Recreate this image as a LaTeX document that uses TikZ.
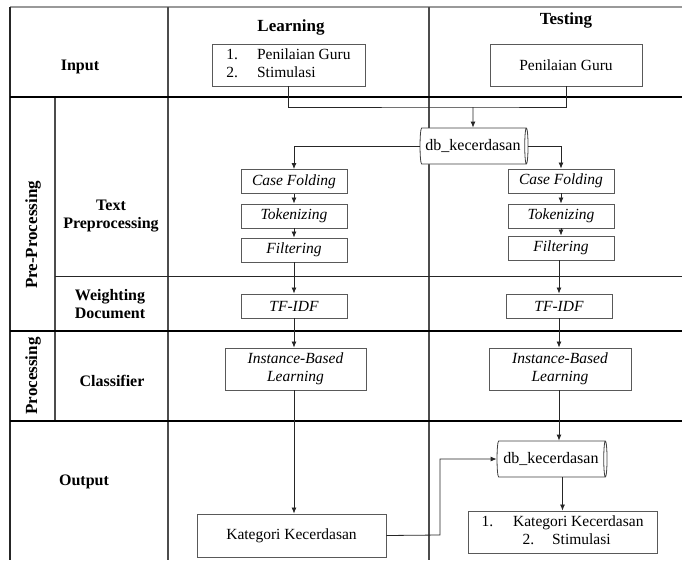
\documentclass[tikz,border=0pt]{standalone}
\usepackage{fontspec}
\setmainfont{Liberation Serif}
\usetikzlibrary{arrows.meta,shapes.geometric}

\begin{document}
\begin{tikzpicture}[x=1pt,y=-1pt,
  gridline/.style={draw=black!70,line width=1.1pt},
  rule/.style={draw=black,line width=1.8pt},
  boxbase/.style={draw=black!65,line width=0.9pt,fill=white,inner sep=0pt},
  stepbox/.style={boxbase,font=\fontsize{15.5}{17.5}\selectfont\itshape,minimum height=24pt,minimum width=106pt},
  plainbox/.style={boxbase,font=\fontsize{15.5}{17.5}\selectfont},
  db/.style={cylinder,draw=black!75,line width=0.8pt,aspect=0.25,minimum height=108pt,minimum width=36pt,inner sep=0pt,font=\fontsize{16}{18}\selectfont,fill=white},
  head/.style={font=\fontsize{17}{19}\selectfont\bfseries},
  rowlabel/.style={font=\fontsize{16}{18}\selectfont\bfseries,align=center},
  arr/.style={-{Latex[length=6pt,width=5pt]},line width=0.8pt,draw=black!85},
  link/.style={line width=0.8pt,draw=black!85}]

\useasboundingbox (0,0) rectangle (682,560);

% table frame
\draw[draw=black!40,line width=1.4pt] (10,7) -- (682,7);
\draw[draw=black!85,line width=1.3pt] (10,7) -- (10,560);
\draw[gridline] (168,7) -- (168,560);
\draw[gridline] (429,7) -- (429,560);
\draw[gridline] (55,97) -- (55,421);
\draw[draw=black!85,line width=1pt] (55,276) -- (682,276);
\draw[rule] (10,97) -- (682,97);
\draw[rule] (10,331) -- (682,331);
\draw[rule] (10,421) -- (682,421);

% column and row headings
\node[head] (hL) at (291,27) {Learning};
\node[head] (hT) at (566,20) {Testing};
\node[rowlabel] (lIn) at (80,67) {Input};
\node[rowlabel] (lTP) at (111,216) {Text\\Preprocessing};
\node[rowlabel] (lWD) at (110,304) {Weighting\\Document};
\node[rowlabel] (lCl) at (112,381) {Classifier};
\node[rowlabel] (lOut) at (84,482) {Output};
\node[rowlabel,rotate=90,font=\fontsize{17}{19}\selectfont\bfseries] (lPre) at (33,235) {Pre-Processing};
\node[rowlabel,rotate=90,font=\fontsize{17}{19}\selectfont\bfseries] (lPro) at (33,376) {Processing};

% inputs
\node[plainbox,minimum width=153pt,minimum height=42pt] (inL) at (288.5,65)
  {\begin{tabular}{@{}l@{\hspace{19pt}}l@{}}1. & Penilaian Guru\\ 2. & Stimulasi\end{tabular}};
\node[plainbox,minimum width=152pt,minimum height=42pt] (inT) at (566,65) {Penilaian Guru};

% database
\node[db] (db1) at (473,146) {db\_kecerdasan};

% learning pipeline
\node[stepbox] (cfL) at (294,181.5) {Case Folding};
\node[stepbox] (tkL) at (294,216) {Tokenizing};
\node[stepbox] (flL) at (294,250) {Filtering};
\node[stepbox] (tfL) at (294,306) {TF-IDF};
\node[stepbox,minimum width=141pt,minimum height=42pt,align=center] (ibL) at (295.5,369) {Instance-Based\\Learning};
\node[plainbox,minimum width=189pt,minimum height=43pt] (katL) at (291.5,535.5) {Kategori Kecerdasan};

% testing pipeline
\node[stepbox] (cfT) at (561,181) {Case Folding};
\node[stepbox] (tkT) at (561,216) {Tokenizing};
\node[stepbox] (flT) at (561,248) {Filtering};
\node[stepbox] (tfT) at (559,306) {TF-IDF};
\node[stepbox,minimum width=142pt,minimum height=42pt,align=center] (ibT) at (560,369) {Instance-Based\\Learning};
\node[db,minimum height=110pt] (db2) at (551,459) {db\_kecerdasan};
\node[plainbox,minimum width=189pt,minimum height=42pt] (outT) at (562.5,532)
  {\begin{tabular}{@{}l@{}}1.\hspace{20pt}Kategori Kecerdasan\\ \hspace{41pt}2.\hspace{18pt}Stimulasi\end{tabular}};

% connectors
\coordinate (jm) at (473,107);
\coordinate (kb) at (440,535);
\draw[link] (inL.south) |- (jm) -| (inT.south);
\draw[arr] (jm) -- (db1.north);
\draw[arr] (db1.west) -| (cfL.north);
\draw[arr] (db1.east) -| (cfT.north);

\draw[arr] (cfL) -- (tkL);
\draw[arr] (tkL) -- (flL);
\draw[arr] (flL) -- (tfL);
\draw[arr] (tfL.south) -- (tfL.south |- ibL.north);
\draw[arr] (ibL.south -| tfL.south) -- (katL.north -| tfL.south);

\draw[arr] (cfT) -- (tkT);
\draw[arr] (tkT) -- (flT);
\draw[arr] (flT.south -| tfT.north) -- (tfT.north);
\draw[arr] (tfT.south) -- (tfT.south |- ibT.north);
\draw[arr] (ibT.south -| tfT.south) -- (db2.north -| tfT.south);
\draw[arr] (katL.east) -- (kb) |- (db2.west);
\draw[arr] (db2.south -| outT.north) -- (outT.north);
\end{tikzpicture}
\end{document}
